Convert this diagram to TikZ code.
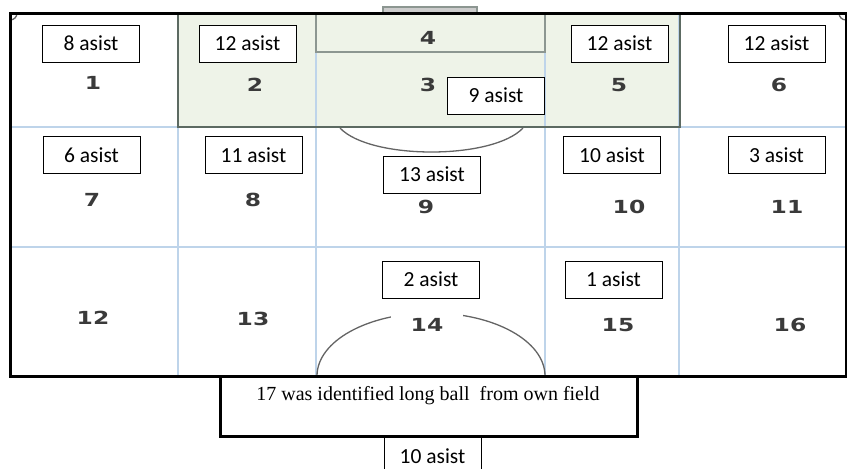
\documentclass[tikz,border=0pt]{standalone}
\usepackage{fontspec}
\setmainfont{Liberation Serif}
\newfontfamily\asistfont{Carlito}
\newfontfamily\zonefont{DejaVu Sans}
\usetikzlibrary{positioning}

\definecolor{gridblue}{RGB}{190,212,234}
\definecolor{boxgreen}{RGB}{238,243,232}
\definecolor{boxline}{RGB}{92,106,98}
\definecolor{goalline}{RGB}{140,150,145}
\definecolor{linegray}{RGB}{100,100,100}
\definecolor{zonegray}{RGB}{58,58,58}

\newcommand{\zonenum}[1]{\scalebox{1.3}[1]{#1}}

\begin{document}
\begin{tikzpicture}[
			x=1pt, y=-1pt,
			asist/.style={draw, line width=0.8pt, fill=white, minimum width=97pt, minimum height=37pt, inner sep=0pt, font=\asistfont\fontsize{21.5}{25}\selectfont},
			zone/.style={text=zonegray, inner sep=1pt, font=\zonefont\bfseries\fontsize{18}{21}\selectfont},
			gridline/.style={gridblue, line width=1.8pt},
			fieldline/.style={linegray, line width=1.3pt}
		]
		\useasboundingbox (0,0) rectangle (847,469);
		\clip (0,0) rectangle (847,469);

		\fill[boxgreen] (178,13) rectangle (680,127);
		\foreach \x in {178,316,545,679} \draw[gridline] (\x,13) -- (\x,376);
		\foreach \y in {127,247} \draw[gridline] (10,\y) -- (846,\y);
		\draw[boxline, line width=2.2pt] (178,13) rectangle (680,127);
		\draw[goalline, line width=1.5pt, fill=boxgreen] (316,13) rectangle (545,52);
		\draw[goalline, line width=1.2pt, fill=gray!40] (383,7) rectangle (477,13);
		\draw[fieldline] (340,128) .. controls (370,160) and (493,160) .. (523,128);
		\draw[fieldline] (317,376) .. controls (317,341) and (368,313) .. (431,313) .. controls (494,313) and (545,341) .. (545,376);
		\draw[fieldline] (10,20) .. controls (14,20) and (17,17) .. (17,13);
		\draw[fieldline] (846,20) .. controls (842,20) and (839,17) .. (839,13);
		\draw[line width=3pt] (10,13) rectangle (846,376);

		\node[zone] (z1) at (93,83) {\zonenum{1}};
		\node[zone] (z2) at (255,85) {\zonenum{2}};
		\node[zone] (z3) at (428,85) {\zonenum{3}};
		\node[zone] (z4) at (428,38) {\zonenum{4}};
		\node[zone] (z5) at (619,85) {\zonenum{5}};
		\node[zone] (z6) at (779,85) {\zonenum{6}};
		\node[zone] (z7) at (92,200) {\zonenum{7}};
		\node[zone] (z8) at (253,200) {\zonenum{8}};
		\node[zone] (z9) at (426,207) {\zonenum{9}};
		\node[zone] (z10) at (629,207) {\zonenum{10}};
		\node[zone] (z11) at (787,207) {\zonenum{11}};
		\node[zone] (z12) at (93,318) {\zonenum{12}};
		\node[zone] (z13) at (253,319) {\zonenum{13}};
		\node[zone, fill=white, minimum width=72pt, minimum height=30pt] (z14) at (427,325) {\zonenum{14}};
		\node[zone] (z15) at (618,325) {\zonenum{15}};
		\node[zone] (z16) at (790,325) {\zonenum{16}};

		\node[asist] (as1) at (91,43.5) {8 asist};
		\node[asist] (as2) at (247.5,43.5) {12 asist};
		\node[asist] (as3) at (496,95.5) {9 asist};
		\node[asist] (as5) at (619.5,43.5) {12 asist};
		\node[asist] (as6) at (776.5,43.5) {12 asist};
		\node[asist] (as7) at (91.5,155) {6 asist};
		\node[asist] (as8) at (253.5,155) {11 asist};
		\node[asist] (as9) at (432,174.5) {13 asist};
		\node[asist] (as10) at (612,155) {10 asist};
		\node[asist] (as11) at (776.5,155) {3 asist};
		\node[asist] (as14) at (431,279.5) {2 asist};
		\node[asist] (as15) at (613.5,279.5) {1 asist};

		\node[draw, line width=3pt, fill=white, minimum width=417pt, minimum height=60pt, inner sep=0pt] (longball) at (428.5,406.5) {};
		\node[inner sep=0pt, font=\fontsize{20}{23}\selectfont] (longtext) at (428,396) {17 was identified long ball~ from own field};
		\node[asist] (as17) at (432.5,456) {10 asist};
	\end{tikzpicture}
\end{document}
